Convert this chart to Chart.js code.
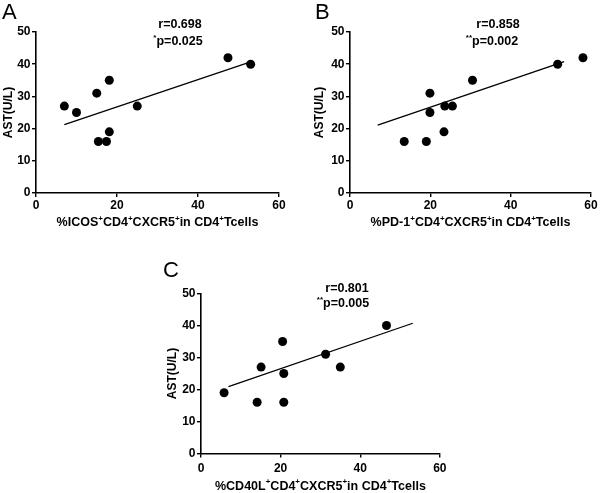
<!DOCTYPE html>
<html>
<head>
<meta charset="utf-8">
<script src="https://cdn.jsdelivr.net/npm/chart.js@4/dist/chart.umd.min.js"></script>
<style>
  html, body { margin: 0; padding: 0; background: #fff; }
  body { width: 600px; height: 493px; position: relative; overflow: hidden; }
  .pane { position: absolute; }
  canvas { display: block; }
</style>
</head>
<body>
<div class="pane" style="left:0px;top:0px;width:300px;height:245px;"><canvas id="cA" width="300" height="245"></canvas></div>
<div class="pane" style="left:300px;top:0px;width:300px;height:245px;"><canvas id="cB" width="300" height="245"></canvas></div>
<div class="pane" style="left:150px;top:248px;width:300px;height:245px;"><canvas id="cC" width="300" height="245"></canvas></div>
<script>
// ---- data ----
const xTicks = [0, 20, 40, 60];
const yTicks = [0, 10, 20, 30, 40, 50];

const icosX = [7, 10, 15, 15.4, 17.4, 18.1, 18.1, 25, 47.4, 53];
const icosY = [27, 25, 31, 16, 16, 35, 19, 27, 42, 40];
const icosFitX = [7, 53];
const icosFitY = [21.2, 40.7];

const pd1X = [13.5, 19, 19.9, 19.9, 23.6, 25.5, 23.4, 30.5, 51.7, 58];
const pd1Y = [16, 16, 31, 25, 27, 27, 19, 35, 40, 42];
const pd1FitX = [6.9, 53.3];
const pd1FitY = [21.1, 40.8];

const cd40lX = [5.8, 14.1, 15.1, 20.5, 20.8, 20.8, 31.3, 35, 46.6];
const cd40lY = [19, 16, 27, 35, 25, 16, 31, 27, 40];
const cd40lFitX = [6.9, 53.2];
const cd40lFitY = [20.9, 40.7];

const panelLetters = ['A', 'B', 'C'];
const rTexts = ['r=0.698', 'r=0.858', 'r=0.801'];
const pStars = ['*', '**', '**'];
const pTexts = ['p=0.025', 'p=0.002', 'p=0.005'];
const yTitle = 'AST(U/L)';
const xTitles = [
  [['%ICOS', false], ['+', true], ['CD4', false], ['+', true], ['CXCR5', false], ['+', true], ['in CD4', false], ['+', true], ['Tcells', false]],
  [['%PD-1', false], ['+', true], ['CD4', false], ['+', true], ['CXCR5', false], ['+', true], ['in CD4', false], ['+', true], ['Tcells', false]],
  [['%CD40L', false], ['+', true], ['CD4', false], ['+', true], ['CXCR5', false], ['+', true], ['in CD4', false], ['+', true], ['Tcells', false]]
];

// ---- helpers ----
const FAM = '"Liberation Sans", Arial, Helvetica, sans-serif';
const MAIN = 'bold 12.5px ' + FAM;
const SUP = 'bold 8px ' + FAM;

function richWidth(ctx, segs) {
  let w = 0;
  for (const [t, sup] of segs) { ctx.font = sup ? SUP : MAIN; w += ctx.measureText(t).width; }
  return w;
}
function drawRich(ctx, segs, cx, cy) {
  const w = richWidth(ctx, segs);
  let x = cx - w / 2;
  ctx.textBaseline = 'middle';
  ctx.textAlign = 'left';
  for (const [t, sup] of segs) {
    ctx.font = sup ? SUP : MAIN;
    ctx.fillText(t, x, sup ? cy - 4.5 : cy);
    x += ctx.measureText(t).width;
  }
}

const decorPlugin = {
  id: 'decor',
  afterDraw(chart, args, o) {
    const ctx = chart.ctx;
    const ca = chart.chartArea;
    ctx.save();
    ctx.fillStyle = '#000';
    // panel letter
    ctx.font = '22px ' + FAM;
    ctx.textAlign = 'left';
    ctx.textBaseline = 'alphabetic';
    ctx.fillText(o.letter, o.letterX, o.letterY);
    // annotations
    drawRich(ctx, [[o.r, false]], o.rX, o.rY);
    drawRich(ctx, [[o.star, true], [o.p, false]], o.pX, o.pY);
    // x title
    drawRich(ctx, o.xTitle, (ca.left + ca.right) / 2, ca.bottom + o.xTitleOff);
    // y title
    ctx.translate(ca.left - o.yTitleOff, (ca.top + ca.bottom) / 2);
    ctx.rotate(-Math.PI / 2);
    ctx.font = 'bold 12px ' + FAM;
    ctx.textAlign = 'center';
    ctx.textBaseline = 'middle';
    ctx.fillText(yTitle, 0, 0);
    ctx.restore();
  }
};

function pts(xs, ys) { return xs.map((x, i) => ({ x: x, y: ys[i] })); }

function makeChart(id, idx, xs, ys, fx, fy, pad, deco) {
  const axisCommon = {
    type: 'linear',
    border: { display: true, color: '#000', width: 1.6 },
    grid: { display: true, drawOnChartArea: false, drawTicks: true, tickLength: 4, color: '#000', lineWidth: 1.4 },
    ticks: { color: '#000', font: { family: FAM, size: 12, weight: 'bold' }, padding: 1.5 }
  };
  return new Chart(document.getElementById(id), {
    type: 'scatter',
    data: {
      datasets: [
        { data: pts(xs, ys), backgroundColor: '#000', borderColor: '#000', pointRadius: 4.5, pointHoverRadius: 4.5, pointBorderWidth: 0 },
        { type: 'line', data: pts(fx, fy), borderColor: '#000', borderWidth: 1.3, pointRadius: 0, fill: false, showLine: true }
      ]
    },
    options: {
      responsive: false,
      animation: false,
      events: [],
      layout: { padding: pad },
      plugins: { legend: { display: false }, tooltip: { enabled: false }, decor: deco },
      scales: {
        x: Object.assign({}, axisCommon, {
          min: 0, max: 60,
          afterBuildTicks(s) { s.ticks = xTicks.map(v => ({ value: v })); },
          afterFit(s) { s.height = deco.xAxisH; },
          ticks: Object.assign({}, axisCommon.ticks, { padding: deco.xTickPad, maxRotation: 0 })
        }),
        y: Object.assign({}, axisCommon, {
          min: 0, max: 50,
          afterBuildTicks(s) { s.ticks = yTicks.map(v => ({ value: v })); },
          afterFit(s) { s.width = 36; }
        })
      }
    },
    plugins: [decorPlugin]
  });
}

makeChart('cA', 0, icosX, icosY, icosFitX, icosFitY,
  { left: 0, top: 32, right: 21, bottom: 0 },
  { letter: panelLetters[0], letterX: 2, letterY: 19, r: rTexts[0], rX: 180, rY: 25, star: pStars[0], p: pTexts[0], pX: 178, pY: 42,
    xTitle: xTitles[0], xTitleOff: 30, yTitleOff: 27.5, xAxisH: 52, xTickPad: 1.5 });

makeChart('cB', 1, pd1X, pd1Y, pd1FitX, pd1FitY,
  { left: 14, top: 32, right: 9, bottom: 0 },
  { letter: panelLetters[1], letterX: 15, letterY: 19, r: rTexts[1], rX: 198, rY: 25, star: pStars[1], p: pTexts[1], pX: 192, pY: 42,
    xTitle: xTitles[1], xTitleOff: 30, yTitleOff: 30, xAxisH: 52, xTickPad: 1.5 });

makeChart('cC', 2, cd40lX, cd40lY, cd40lFitX, cd40lFitY,
  { left: 15, top: 45.5, right: 7, bottom: 0 },
  { letter: panelLetters[2], letterX: 13, letterY: 29, r: rTexts[2], rX: 197, rY: 41, star: pStars[2], p: pTexts[2], pX: 193, pY: 56,
    xTitle: xTitles[2], xTitleOff: 33, yTitleOff: 28, xAxisH: 39.5, xTickPad: 3.5 });
</script>
</body>
</html>
